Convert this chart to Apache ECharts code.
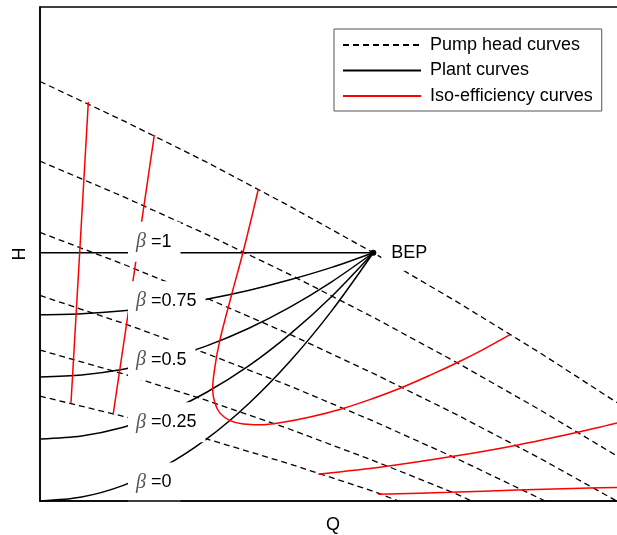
<!DOCTYPE html>
<html>
<head>
<meta charset="utf-8">
<script src="https://cdn.jsdelivr.net/npm/echarts@6/dist/echarts.min.js"></script>
<style>html,body{margin:0;padding:0;background:#fff}#c{width:617px;height:535px}</style>
</head>
<body>
<div id="c"></div>
<script>
// ---- data (normalised: Q/Q_BEP, H/H_BEP) ----
const pump100 = [[0,1.690],[0.25,1.532],[0.5,1.365],[0.75,1.187],[1.0,1.000],[1.25,0.803],[1.5,0.597],[1.75,0.380]];
const pump90  = [[0,1.369],[0.25,1.226],[0.5,1.074],[0.75,0.912],[1.0,0.740],[1.25,0.558],[1.5,0.367],[1.75,0.166]];
const pump80  = [[0,1.082],[0.25,0.954],[0.5,0.817],[0.75,0.671],[1.0,0.514],[1.25,0.348],[1.5,0.172],[1.73,0]];
const pump70  = [[0,0.828],[0.25,0.716],[0.5,0.594],[0.75,0.463],[1.0,0.322],[1.25,0.171],[1.5,0.010],[1.515,0]];
const pump60  = [[0,0.608],[0.25,0.512],[0.5,0.405],[0.75,0.289],[1.0,0.163],[1.25,0.028],[1.295,0]];
const pump50  = [[0,0.4225],[0.25,0.341],[0.5,0.250],[0.75,0.149],[1.0,0.039],[1.075,0]];

const plantQ     = [0, 0.125, 0.25, 0.375, 0.5, 0.625, 0.75, 0.875, 1];
const plantH_100 = [1, 1, 1, 1, 1, 1, 1, 1, 1];
const plantH_75  = [0.75, 0.754, 0.766, 0.785, 0.813, 0.848, 0.891, 0.941, 1];
const plantH_50  = [0.5, 0.508, 0.531, 0.570, 0.625, 0.695, 0.781, 0.883, 1];
const plantH_25  = [0.25, 0.262, 0.297, 0.355, 0.438, 0.543, 0.672, 0.824, 1];
const plantH_0   = [0, 0.016, 0.063, 0.141, 0.25, 0.391, 0.563, 0.766, 1];

const iso1 = [[0.145,1.607],[0.119,1.000],[0.093,0.396]];
const iso2 = [[0.343,1.475],[0.282,0.915],[0.220,0.354]];
const iso3 = [[0.655,1.256],[0.610,1.007],[0.575,0.832],[0.540,0.650],[0.525,0.542],[0.518,0.448],[0.525,0.394],[0.540,0.354],[0.570,0.324],[0.610,0.310],[0.660,0.307],[0.729,0.317],[0.810,0.338],[0.909,0.373],[0.999,0.413],[1.080,0.454],[1.179,0.512],[1.254,0.559],[1.329,0.610],[1.410,0.670]];
const iso4 = [[0.835,0.108],[1.030,0.138],[1.240,0.180],[1.430,0.225],[1.620,0.279],[1.731,0.314]];
const iso5 = [[1.015,0.027],[1.230,0.035],[1.430,0.044],[1.650,0.0525],[1.731,0.054]];

const betaLabels   = ['1', '0.75', '0.5', '0.25', '0'];
const betaLabelQ   = 0.264;
const betaLabelH   = [1.044, 0.805, 0.567, 0.317, 0.075];
const bep          = [1, 1];
const legendNames  = ['Pump head curves', 'Plant curves', 'Iso-efficiency curves'];

// ---- chart ----
const FONT = "'Liberation Sans', Arial, sans-serif";
const chart = echarts.init(document.getElementById('c'), null, {renderer: 'canvas'});

const pumpCurves  = [pump100, pump90, pump80, pump70, pump60, pump50];
const plantCurves = [plantH_100, plantH_75, plantH_50, plantH_25, plantH_0];
const isoCurves   = [iso1, iso2, iso3, iso4, iso5];

const series = [];
pumpCurves.forEach(d => series.push({
  type: 'line', name: legendNames[0], data: d, symbol: 'none', showSymbol: false,
  lineStyle: {color: '#000', width: 1.3, type: [6, 4]}, itemStyle: {color: '#000'},
  silent: true, z: 2, animation: false
}));
plantCurves.forEach(h => series.push({
  type: 'line', name: legendNames[1], data: plantQ.map((q, i) => [q, h[i]]), symbol: 'none', showSymbol: false,
  smooth: 0.3,
  lineStyle: {color: '#000', width: 1.5}, itemStyle: {color: '#000'},
  silent: true, z: 3, animation: false
}));
isoCurves.forEach((d, k) => series.push({
  type: 'line', name: legendNames[2], data: d, symbol: 'none', showSymbol: false,
  smooth: k === 2 ? 0.4 : (k >= 3 ? 0.3 : false),
  lineStyle: {color: '#ff0000', width: 1.5}, itemStyle: {color: '#ff0000'},
  silent: true, z: 4, animation: false
}));
series.push({
  type: 'scatter', name: 'beta', z: 10, symbol: 'circle', symbolSize: 0,
  itemStyle: {color: '#fff', opacity: 1}, silent: true, animation: false,
  emphasis: {disabled: true},
  data: betaLabels.map((t, i) => ({value: [betaLabelQ, betaLabelH[i]], label: {formatter: '{b|β} =' + t}})),
  label: {
    show: true, position: 'right', distance: 0, backgroundColor: '#fff', opacity: 1,
    padding: [9, 9, 9, 8], fontSize: 18, lineHeight: 22, color: '#000', fontFamily: FONT,
    rich: {b: {fontFamily: "'Liberation Serif', 'DejaVu Serif', serif", fontStyle: 'italic', fontSize: 20, lineHeight: 22, color: '#555'}}
  }
});
series.push({
  type: 'scatter', name: 'BEP', z: 11, symbol: 'circle', symbolSize: 6,
  itemStyle: {color: '#000', opacity: 1}, silent: true, animation: false,
  emphasis: {disabled: true},
  data: [bep],
  label: {
    show: true, position: 'right', distance: 5, formatter: 'BEP', backgroundColor: '#fff', opacity: 1,
    padding: [8, 8, 8, 10], fontSize: 18, lineHeight: 20, color: '#000', fontFamily: FONT
  }
});

chart.setOption({
  animation: false,
  backgroundColor: '#fff',
  grid: {left: 40, top: 7, width: 586, height: 494, containLabel: false, outerBoundsMode: 'none',
         show: true, borderColor: '#000', borderWidth: 1.5, backgroundColor: 'transparent'},
  legend: {
    data: legendNames, orient: 'vertical', left: 334, top: 29,
    padding: [7, 9, 6, 8], itemWidth: 78, itemHeight: 18, itemGap: 7.5,
    borderColor: '#555', borderWidth: 1, backgroundColor: '#fff', borderRadius: 0,
    selectedMode: false, z: 30,
    itemStyle: {opacity: 0},
    textStyle: {fontSize: 18, lineHeight: 18, color: '#000', fontFamily: FONT, padding: [0, 0, 0, 4]}
  },
  xAxis: {
    type: 'value', min: 0, max: 1.758, z: 20,
    name: 'Q', nameLocation: 'middle', nameGap: 15,
    nameTextStyle: {fontSize: 18, color: '#000', fontFamily: FONT},
    axisLine: {show: true, onZero: false, lineStyle: {color: '#000', width: 1.5}},
    axisTick: {show: false}, axisLabel: {show: false}, splitLine: {show: false}
  },
  yAxis: {
    type: 'value', min: 0, max: 1.99, z: 20,
    name: 'H', nameLocation: 'middle', nameGap: 11, nameRotate: 90,
    nameTextStyle: {fontSize: 18, color: '#000', fontFamily: FONT},
    axisLine: {show: true, onZero: false, lineStyle: {color: '#000', width: 1.5}},
    axisTick: {show: false}, axisLabel: {show: false}, splitLine: {show: false}
  },
  series: series
});
</script>
</body>
</html>
